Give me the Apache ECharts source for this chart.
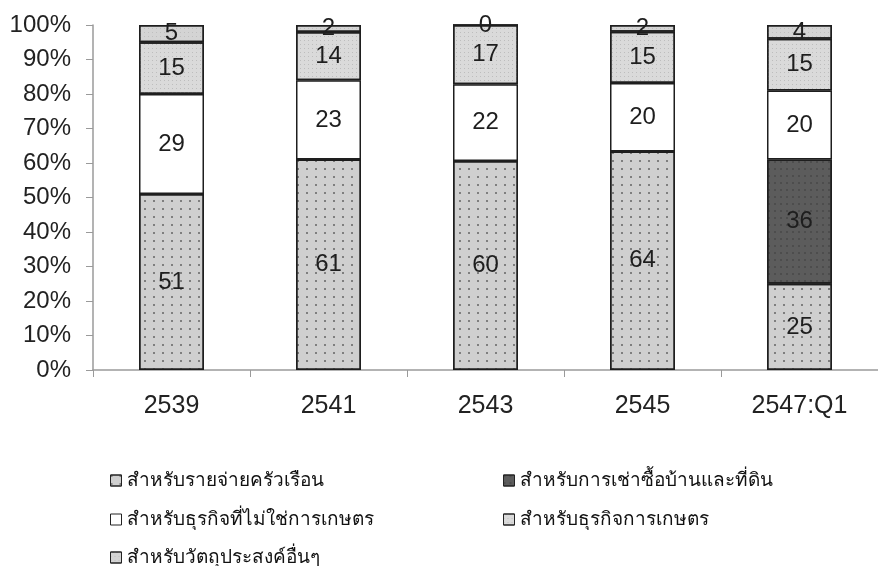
<!DOCTYPE html>
<html>
<head>
<meta charset="utf-8">
<script src="https://cdn.jsdelivr.net/npm/echarts@6/dist/echarts.min.js"></script>
<style>
html,body{margin:0;padding:0;background:#fff;}
#chart{width:878px;height:566px;}
</style>
</head>
<body>
<div id="chart"></div>
<script>
var categories = ['2539', '2541', '2543', '2545', '2547:Q1'];
var seriesNames = [
  'สำหรับรายจ่ายครัวเรือน',
  'สำหรับการเช่าซื้อบ้านและที่ดิน',
  'สำหรับธุรกิจที่ไม่ใช่การเกษตร',
  'สำหรับธุรกิจการเกษตร',
  'สำหรับวัตถุประสงค์อื่นๆ'
];
var household    = [51, 61, 60, 64, 25];
var hirePurchase = [0, 0, 0, 0, 36];
var nonAgri      = [29, 23, 22, 20, 20];
var agri         = [15, 14, 17, 15, 15];
var other        = [5, 2, 0, 2, 4];
var yTickLabels = ['0%', '10%', '20%', '30%', '40%', '50%', '60%', '70%', '80%', '90%', '100%'];

var raw = [household, hirePurchase, nonAgri, agri, other];
var totals = categories.map(function (c, i) {
  return raw.reduce(function (s, arr) { return s + arr[i]; }, 0);
});
function pct(arr) {
  return arr.map(function (v, i) { return v / totals[i] * 100; });
}

var FONT = '"Liberation Sans", Arial, sans-serif';
var fills = ['#cfcfcf', '#5c5c5c', '#ffffff', '#dadada', '#d4d4d4'];
var decals = [
  { symbol: 'rect', symbolSize: 1, color: 'rgba(60,60,60,0.55)', dashArrayX: [1.5, 7], dashArrayY: [1.5, 6] },
  { symbol: 'rect', symbolSize: 1, color: 'rgba(30,30,30,0.25)', dashArrayX: [2, 4], dashArrayY: [2, 5] },
  null,
  { symbol: 'rect', symbolSize: 1, color: 'rgba(170,170,170,0.6)', dashArrayX: [1, 3], dashArrayY: [1, 3] },
  { symbol: 'rect', symbolSize: 1, color: 'rgba(170,170,170,0.5)', dashArrayX: [1, 3], dashArrayY: [1, 3] }
];

var series = raw.map(function (arr, k) {
  var style = { color: fills[k], borderColor: '#1e1e1e', borderWidth: 1.5 };
  if (decals[k]) style.decal = decals[k];
  return {
    name: seriesNames[k],
    type: 'bar',
    stack: 'total',
    barWidth: 65,
    data: pct(arr),
    itemStyle: style,
    label: {
      show: true,
      position: 'inside',
      color: '#1e1e1e',
      fontFamily: FONT,
      fontSize: 24,
      formatter: function (p) {
        var v = raw[k][p.dataIndex];
        if (k === 1 && v === 0) return '';
        return String(v);
      }
    },
    emphasis: { disabled: true }
  };
});

var legendPos = [
  { left: 105, top: 465 },
  { left: 498, top: 465 },
  { left: 105, top: 504 },
  { left: 498, top: 504 },
  { left: 105, top: 542 }
];
var legends = seriesNames.map(function (n, k) {
  return {
    orient: 'horizontal',
    left: legendPos[k].left,
    top: legendPos[k].top,
    icon: 'rect',
    itemWidth: 11, itemHeight: 11,
    data: [n],
    textStyle: { color: '#111', fontSize: 19, lineHeight: 21, fontFamily: FONT },
    itemStyle: { borderColor: '#222', borderWidth: 1 }
  };
});

var chart = echarts.init(document.getElementById('chart'), null, { renderer: 'canvas' });
chart.setOption({
  animation: false,
  backgroundColor: '#ffffff',
  grid: { left: 93, right: -8, top: 25, bottom: 196 },
  xAxis: {
    type: 'category',
    data: categories,
    axisLine: { lineStyle: { color: '#9a9a9a', width: 1.5 } },
    axisTick: { show: true, length: 7, lineStyle: { color: '#9a9a9a' } },
    axisLabel: { color: '#222', fontFamily: FONT, fontSize: 25, margin: 24 }
  },
  yAxis: {
    type: 'value',
    min: 0,
    max: 100,
    interval: 10,
    axisLine: { show: true, lineStyle: { color: '#9a9a9a', width: 1.5 } },
    axisTick: { show: true, length: 7, lineStyle: { color: '#9a9a9a' } },
    splitLine: { show: false },
    axisLabel: {
      color: '#222', fontFamily: FONT, fontSize: 24, margin: 22,
      formatter: function (v) { return yTickLabels[Math.round(v / 10)]; }
    }
  },
  legend: legends,
  series: series
});
</script>
</body>
</html>
